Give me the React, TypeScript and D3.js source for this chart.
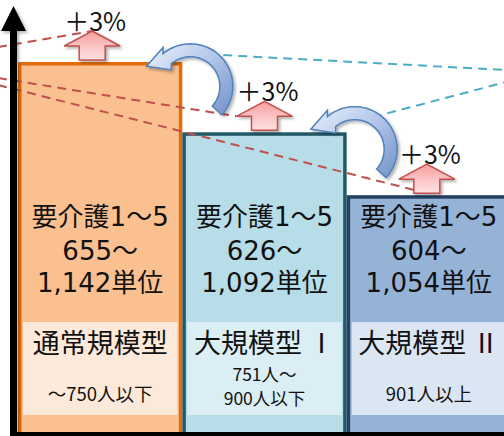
import * as d3 from 'd3'

// ─── Data ────────────────────────────────────────────────────────────────────

const categories = ['通常規模型', '大規模型 Ⅰ', '大規模型 Ⅱ']
const levels = [100, 81, 64] // relative step height of each size class
const careLevel = ['要介護1～5', '要介護1～5', '要介護1～5']
const unitsLow = ['655～', '626～', '604～']
const unitsHigh = ['1,142単位', '1,092単位', '1,054単位']
const capacity = [['～750人以下'], ['751人～', '900人以下'], ['901人以上']]
const increase = ['＋3%', '＋3%', '＋3%']

// ─── Styles ──────────────────────────────────────────────────────────────────

const W = 504
const H = 436
const BASE = 432
const font = '"DejaVu Sans", "Noto Sans CJK JP", sans-serif'
const cjk = '"Noto Sans CJK JP", sans-serif'
const barFill = ['#FAC090', '#B7DDE8', '#95B3D7']
const barStroke = ['#E46C0A', '#215968', '#254061']
const boxFill = ['#FDE9D9', '#DAEEF3', '#DCE6F2']
const arrowShift = [-8, 0, -2]
const red = '#C0504D'
const cyan = '#4BACC6'

const x = d3.scaleBand<string>().domain(categories).range([18, 511]).padding(0)
const y = d3.scaleLinear().domain([0, 100]).range([BASE, 62])

type Pt = [number, number]

// pink block arrow pointing up, sitting on a bar top
function upArrow(cx: number, top: number) {
  const pts: Pt[] = [
    [cx, top - 31],
    [cx + 28, top - 16],
    [cx + 13, top - 16],
    [cx + 13, top - 2],
    [cx - 13, top - 2],
    [cx - 13, top - 16],
    [cx - 28, top - 16],
  ]
  return d3.line()(pts) + 'Z'
}

const pt = (cx: number, cy: number, r: number, deg: number): Pt => {
  const a = (deg * Math.PI) / 180
  return [cx + r * Math.cos(a), cy - r * Math.sin(a)]
}

// curved block arrow (circular), head pointing left-down
function curvedArrow(cx: number, cy: number) {
  const rMid = 36
  const half = 6.5
  const t0 = -42
  const t1 = 130
  const outer = d3.range(t0, t1 + 0.1, 4).map((t) => pt(cx, cy, rMid + half, t))
  const inner = d3.range(t1, t0 - 0.1, -4).map((t) => pt(cx, cy, rMid - half, t))
  const m = pt(cx, cy, rMid, t1)
  const da = (160 * Math.PI) / 180
  const d: Pt = [Math.cos(da), Math.sin(da)]
  const n: Pt = [-d[1], d[0]]
  const tip: Pt = [m[0] + 22 * d[0], m[1] + 22 * d[1]]
  const c1: Pt = [m[0] + 12 * n[0], m[1] + 12 * n[1]]
  const c2: Pt = [m[0] - 12 * n[0], m[1] - 12 * n[1]]
  return d3.line()([...outer, c1, tip, c2, ...inner]) + 'Z'
}

export default function App() {
  const bw = x.bandwidth()
  const tops = levels.map((v) => y(v))
  const mids = categories.map((c) => x(c)! + bw / 2)
  const tips = mids.map((m, i) => [m + arrowShift[i], tops[i] - 31] as Pt)

  // curved arrows anchored at the next bar's left edge / top
  const curls = categories.slice(1).map((c, i) => [x(c)! + 8, tops[i + 1] - 46] as Pt)

  const redLines: [Pt, Pt][] = [
    [[-2, 47], tips[0]],
    [[-2, 78], [tips[1][0] - 28, tops[1] - 16]],
    [[-2, 85], [tips[2][0], tops[2] - 2]],
  ]
  const cyanEnds = [70, 82]
  const cyanLines: [Pt, Pt][] = curls.map((c, i) => [[c[0] + 18, c[1] - 32], [506, cyanEnds[i]]])

  return (
    <svg
      width={W}
      height={H}
      viewBox={`0 0 ${W} ${H}`}
      style={{ position: 'absolute', left: 0, top: 0, display: 'block', background: '#fff' }}
      fontFamily={font}
    >
      <defs>
        <linearGradient id="pink" x1="0" y1="0" x2="0" y2="1">
          <stop offset="0%" stopColor="#F59C9C" />
          <stop offset="55%" stopColor="#FBC6C6" />
          <stop offset="100%" stopColor="#FFE2E2" />
        </linearGradient>
        <linearGradient id="curl" x1="0" y1="0.1" x2="1" y2="1">
          <stop offset="0%" stopColor="#E4EDFA" />
          <stop offset="45%" stopColor="#B4C8EA" />
          <stop offset="100%" stopColor="#7390C6" />
        </linearGradient>
        <filter id="shadow" x="-20%" y="-20%" width="150%" height="150%">
          <feDropShadow dx="2" dy="2" stdDeviation="1.5" floodColor="#000" floodOpacity="0.3" />
        </filter>
      </defs>

      {/* bars */}
      {categories.map((c, i) => (
        <rect
          key={c}
          x={x(c)! + 1.75}
          y={tops[i] + 1.75}
          width={bw - 3.5}
          height={BASE - tops[i]}
          fill={barFill[i]}
          stroke={barStroke[i]}
          strokeWidth={3.5}
        />
      ))}

      {/* label boxes */}
      {categories.map((c, i) => (
        <rect key={c} x={x(c)! + 5} y={322} width={bw - 10} height={93} fill={boxFill[i]} />
      ))}

      {/* bar texts */}
      {categories.map((c, i) => (
        <g key={c} textAnchor="middle" fill="#111">
          <text fontSize={26}>
            <tspan x={mids[i]} y={226}>{careLevel[i]}</tspan>
            <tspan x={mids[i]} y={260}>{unitsLow[i]}</tspan>
            <tspan x={mids[i]} y={292}>{unitsHigh[i]}</tspan>
          </text>
          <text fontFamily={cjk}>
            <tspan x={mids[i]} y={353} fontSize={27}>{c}</tspan>
            {capacity[i].map((s, j) => (
              <tspan
                key={j}
                x={mids[i]}
                y={capacity[i].length === 1 ? 401 : 381 + j * 24}
                fontSize={capacity[i].length === 1 ? 18.5 : 17.5}
              >
                {s}
              </tspan>
            ))}
          </text>
        </g>
      ))}

      {/* dashed guide lines */}
      {redLines.map(([a, b], i) => (
        <line key={'r' + i} x1={a[0]} y1={a[1]} x2={b[0]} y2={b[1]}
          stroke={red} strokeWidth={2} strokeDasharray="9 6" />
      ))}
      {cyanLines.map(([a, b], i) => (
        <line key={'c' + i} x1={a[0]} y1={a[1]} x2={b[0]} y2={b[1]}
          stroke={cyan} strokeWidth={2} strokeDasharray="9 6" />
      ))}

      {/* curved arrows */}
      {curls.map((c, i) => (
        <path key={i} d={curvedArrow(c[0], c[1])} fill="url(#curl)" stroke="#4F81BD"
          strokeWidth={1.5} filter="url(#shadow)" />
      ))}

      {/* increase arrows + labels */}
      {categories.map((c, i) => (
        <g key={c}>
          <path d={upArrow(tips[i][0], tops[i])} fill="url(#pink)" stroke={red}
            strokeWidth={1.5} filter="url(#shadow)" />
          <text x={tips[i][0] + 3} y={tips[i][1]} textAnchor="middle" fontSize={25}
            fontFamily={cjk} fill="#111">
            {increase[i]}
          </text>
        </g>
      ))}

      {/* axes */}
      <g filter="url(#shadow)">
        <rect x={10} y={28} width={7} height={H - 28} fill="#000" />
        <path d="M13.5,6 L26,31 L1,31 Z" fill="#000" />
      </g>
      <rect x={10} y={BASE} width={W} height={H - BASE} fill="#000" />
    </svg>
  )
}
